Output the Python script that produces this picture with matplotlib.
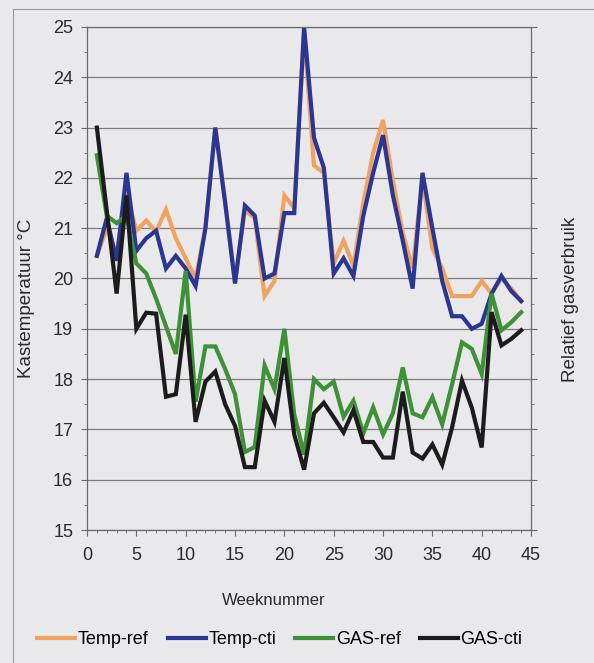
import matplotlib
matplotlib.use("Agg")
import matplotlib.pyplot as plt
from matplotlib.ticker import MultipleLocator
from matplotlib.lines import Line2D

plt.rcParams['font.family'] = ['Liberation Sans', 'DejaVu Sans']

# weekly greenhouse temperature and relative gas use
weeks = list(range(1, 45))

temp_ref = [20.45, 21.0, 20.5, 21.7, 20.95, 21.15, 20.93, 21.37, 20.8, 20.4,
            20.0, 21.0, 23.0, 21.55, 19.95, 21.35, 21.2, 19.65, 19.95, 21.65,
            21.4, 24.9, 22.25, 22.1, 20.3, 20.75, 20.25, 21.5, 22.5, 23.15,
            21.95, 20.9, 20.2, 22.0, 20.6, 20.2, 19.65, 19.65, 19.65, 19.95,
            19.7, 20.0, 19.8, 19.55]

temp_cti = [20.45, 21.2, 20.35, 22.1, 20.55, 20.8, 20.95, 20.2, 20.45, 20.2,
            19.85, 21.0, 23.0, 21.5, 19.9, 21.45, 21.25, 20.0, 20.1, 21.3,
            21.3, 25.0, 22.8, 22.2, 20.1, 20.4, 20.05, 21.25, 22.1, 22.85,
            21.65, 20.75, 19.8, 22.1, 21.0, 19.95, 19.25, 19.25, 19.0, 19.1,
            19.7, 20.05, 19.75, 19.55]

gas_ref = [22.45, 21.25, 21.1, 21.25, 20.3, 20.1, 19.6, 19.05, 18.5, 20.15,
           17.55, 18.65, 18.65, 18.2, 17.7, 16.55, 16.65, 18.27, 17.8, 19.0,
           17.3, 16.5, 18.0, 17.8, 17.95, 17.25, 17.57, 16.92, 17.44, 16.9,
           17.32, 18.23, 17.32, 17.24, 17.64, 17.1, 17.9, 18.73, 18.6, 18.1,
           19.7, 18.97, 19.13, 19.33]

gas_cti = [23.0, 21.35, 19.7, 21.65, 19.0, 19.32, 19.3, 17.65, 17.7, 19.28,
           17.15, 17.95, 18.15, 17.5, 17.07, 16.25, 16.25, 17.57, 17.15, 18.42,
           16.9, 16.2, 17.32, 17.53, 17.24, 16.94, 17.38, 16.75, 16.75, 16.44,
           16.44, 17.75, 16.54, 16.42, 16.7, 16.3, 17.04, 17.97, 17.43, 16.64,
           19.33, 18.67, 18.8, 18.97]

series = [
    ("Temp-ref", temp_ref, "#f0a25e"),
    ("Temp-cti", temp_cti, "#2a3694"),
    ("GAS-ref", gas_ref, "#3d9136"),
    ("GAS-cti", gas_cti, "#1c1c1c"),
]

bg = "#e9e9eb"
txt = "#2a2a2a"
fig = plt.figure(figsize=(5.94, 6.63), dpi=100, facecolor=bg)
ax = fig.add_axes([0.1465, 0.2006, 0.7475, 0.7587])
ax.set_facecolor(bg)

for name, vals, col in series:
    ax.plot(weeks, vals, color=col, lw=3, label=name, solid_joinstyle="miter")

ax.set_xlim(0, 45)
ax.set_ylim(15, 25)
ax.xaxis.set_major_locator(MultipleLocator(5))
ax.xaxis.set_minor_locator(MultipleLocator(1))
ax.yaxis.set_major_locator(MultipleLocator(1))
ax.yaxis.set_minor_locator(MultipleLocator(0.5))
ax.grid(axis="y", which="major", color="#7c7c80", lw=0.9)
ax.set_axisbelow(True)

for s in ax.spines.values():
    s.set_color("#6a6a6e")
    s.set_linewidth(0.9)

ax.tick_params(which="both", direction="out", color="#6a6a6e", labelsize=13,
               labelcolor=txt)
ax.tick_params(which="major", length=4)
ax.tick_params(which="minor", length=2.5)
ax.tick_params(axis="y", which="both", right=True)
ax.tick_params(axis="x", pad=8)
ax.tick_params(axis="y", pad=6)

ax.set_xlabel("Weeknummer", fontsize=12, color=txt)
ax.xaxis.set_label_coords(0.42, -0.125)
ax.set_ylabel("Kastemperatuur °C", fontsize=13.5, color=txt)
ax.yaxis.set_label_coords(-0.117, 0.46)
fig.text(0.96, 0.548, "Relatief gasverbruik", rotation=90, fontsize=13.5,
         color=txt, ha="center", va="center")

handles = [Line2D([], [], color=c, lw=3) for _, _, c in series]
fig.legend(handles, [n for n, _, _ in series], loc="center",
           bbox_to_anchor=(0.471, 0.035), ncol=4, frameon=False, fontsize=13,
           handlelength=2.1, handletextpad=0.15, columnspacing=1.05)

# thin page frame on the left and top
fig.add_artist(Line2D([0.022, 0.022], [0.0, 0.987], color="#9a9a9e", lw=0.8))
fig.add_artist(Line2D([0.022, 1.0], [0.987, 0.987], color="#9a9a9e", lw=0.8))

fig.savefig("out.png", dpi=100, facecolor=bg)
